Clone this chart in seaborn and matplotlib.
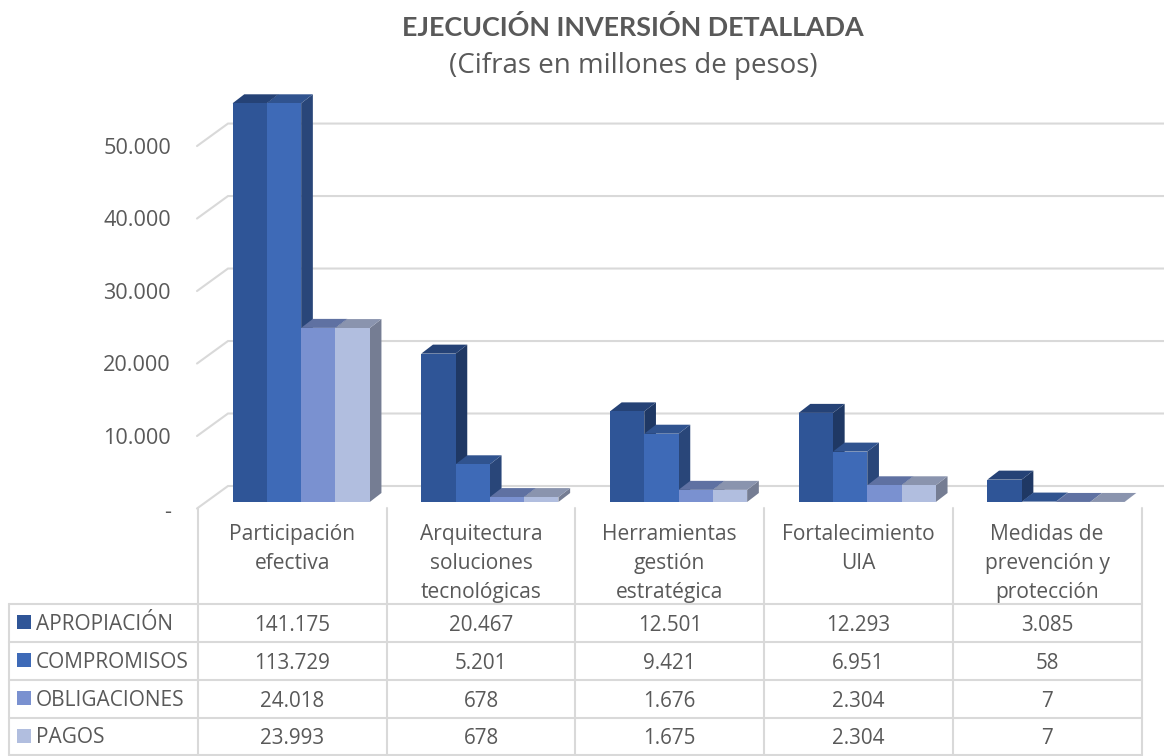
import matplotlib

matplotlib.use("Agg")
import matplotlib.pyplot as plt
import matplotlib.transforms as mtrans
from matplotlib.colors import to_rgb
from matplotlib.patches import Polygon, Rectangle
import pandas as pd
import seaborn as sns

categories = [
    "Participación\nefectiva",
    "Arquitectura\nsoluciones\ntecnológicas",
    "Herramientas\ngestión\nestratégica",
    "Fortalecimiento\nUIA",
    "Medidas de\nprevención y\nprotección",
]
series_names = ["APROPIACIÓN", "COMPROMISOS", "OBLIGACIONES", "PAGOS"]
apropiacion = [141175, 20467, 12501, 12293, 3085]
compromisos = [113729, 5201, 9421, 6951, 58]
obligaciones = [24018, 678, 1676, 2304, 7]
pagos = [23993, 678, 1675, 2304, 7]
series_values = [apropiacion, compromisos, obligaciones, pagos]
colors = ["#2F5597", "#3E6AB7", "#7A91D0", "#B1BEDF"]
y_ticks = [0, 10000, 20000, 30000, 40000, 50000]
y_max = 55000

W, H = 1164, 756
TEXT = "#595959"
GRID = "#D9D9D9"

# layout in pixels of the reference
cat_w = 188.7
ax_left = 206.8
base_y = 502
top_y = 103.3
depth_x, depth_y = 11.7, 9
floor_x, floor_y = 31, 22.5

sns.set_theme(style="white")
plt.rcParams["font.family"] = ["Open Sans", "DejaVu Sans"]

df = pd.DataFrame(
    {
        "categoria": [c for _ in series_names for c in categories],
        "serie": [s for s in series_names for _ in categories],
        "valor": [v for vals in series_values for v in vals],
    }
)

fig = plt.figure(figsize=(W / 100, H / 100), dpi=100, facecolor="white")
ax = fig.add_axes(
    [ax_left / W, (H - base_y) / H, cat_w * 5 / W, (base_y - top_y) / H]
)
sns.barplot(
    data=df,
    x="categoria",
    y="valor",
    hue="serie",
    hue_order=series_names,
    palette=colors,
    saturation=1,
    width=0.727,
    gap=0,
    linewidth=0,
    legend=False,
    ax=ax,
)
ax.set_xlim(-0.5, 4.5)
ax.set_ylim(0, y_max)
ax.set_xlabel("")
ax.set_ylabel("")
sns.despine(ax=ax, left=True, bottom=True)
ax.patch.set_visible(False)

# pixels to data units
per_px_x = 1 / cat_w
per_px_y = y_max / (base_y - top_y)


def shade(color, factor):
    return tuple(c * factor for c in to_rgb(color))


# back wall and left wall lines
x_back = (228 - ax_left) * per_px_x - 0.5
x_front = (197 - ax_left) * per_px_x - 0.5
x_end = (W - ax_left) * per_px_x - 0.5
for v in y_ticks:
    y_back = v + 16 * per_px_y
    y_front = y_back - floor_y * per_px_y
    ax.plot(
        [x_front, x_back, x_end],
        [y_front, y_back, y_back],
        color=GRID,
        lw=1.5,
        clip_on=False,
        zorder=1,
        solid_joinstyle="miter",
    )

# side and top faces, worked out from the bars seaborn drew
bars = sorted(ax.patches, key=lambda p: p.get_x())
dx = depth_x * per_px_x
dy = depth_y * per_px_y
for i, bar in enumerate(bars):
    color = bar.get_facecolor()[:3]
    left = bar.get_x()
    right = left + bar.get_width()
    top = min(bar.get_height(), y_max)
    z = 3 + i
    bar.set_zorder(z + 0.5)
    side = Polygon(
        [(right, 0), (right + dx, dy), (right + dx, top + dy), (right, top)],
        facecolor=shade(color, 0.66),
        edgecolor="none",
        clip_on=False,
        zorder=z,
    )
    lid = Polygon(
        [(left, top), (left + dx, top + dy), (right + dx, top + dy), (right, top)],
        facecolor=shade(color, 0.78),
        edgecolor="none",
        clip_on=False,
        zorder=z + 0.2,
    )
    ax.add_patch(side)
    ax.add_patch(lid)

# axis labels
ax.set_yticks(y_ticks)
ax.set_yticklabels(
    ["-" if v == 0 else f"{v:,}".replace(",", ".") for v in y_ticks]
)
ax.tick_params(axis="y", length=0, pad=25.8, labelsize=15.6, labelcolor=TEXT)
ax.tick_params(axis="x", length=0, pad=16, labelsize=15.1, labelcolor=TEXT)
for lab, v in zip(ax.get_yticklabels(), y_ticks):
    drop = 6 if v else 8
    lab.set_transform(
        lab.get_transform()
        + mtrans.ScaledTranslation(0, -drop / 100, fig.dpi_scale_trans)
    )
shift_x = mtrans.ScaledTranslation(-8.9 / 100, 0, fig.dpi_scale_trans)
for lab in ax.get_xticklabels():
    lab.set_transform(lab.get_transform() + shift_x)
    lab.set_linespacing(1.49)

# data table underneath, in pixel coordinates
tb = fig.add_axes([0, 0, 1, 1], facecolor="none")
tb.set_xlim(0, W)
tb.set_ylim(H, 0)
tb.axis("off")

col_x = [198 + cat_w * i for i in range(6)]
row_y = [604, 642, 680, 718, 755]
for x in col_x:
    tb.plot([x, x], [508, row_y[-1]], color=GRID, lw=1.5, zorder=1)
tb.plot([9, 9], [row_y[0], row_y[-1]], color=GRID, lw=1.5, zorder=1)
for y in row_y:
    tb.plot([9, col_x[-1]], [y, y], color=GRID, lw=1.5, zorder=1)

for r, name in enumerate(series_names):
    mid = (row_y[r] + row_y[r + 1]) / 2
    tb.add_patch(Rectangle((17, mid - 8), 14, 14, facecolor=colors[r], edgecolor="none"))
    tb.text(36, mid + 1, name, color=TEXT, fontsize=15, ha="left", va="center")
    for c, val in enumerate(series_values[r]):
        tb.text(
            (col_x[c] + col_x[c + 1]) / 2,
            mid + 2.5,
            f"{val:,}".replace(",", "."),
            color=TEXT,
            fontsize=14.9,
            ha="center",
            va="center",
        )

tb.text(
    633, 27, "EJECUCIÓN INVERSIÓN DETALLADA",
    color=TEXT, fontsize=19.4, fontweight="bold", family=["Lato", "DejaVu Sans"],
    ha="center", va="center",
)
tb.text(
    633, 66, "(Cifras en millones de pesos)",
    color=TEXT, fontsize=20, ha="center", va="center",
)

fig.savefig("out.png", dpi=100)
plt.close(fig)
